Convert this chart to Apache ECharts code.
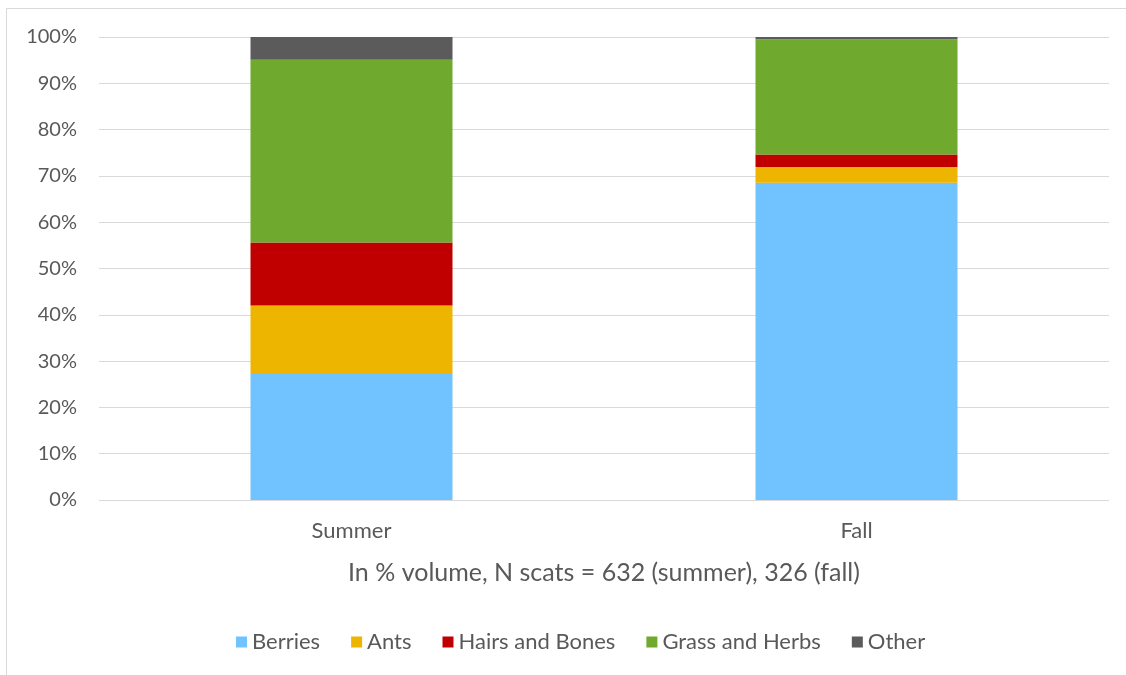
<!DOCTYPE html>
<html>
<head>
<meta charset="utf-8">
<script src="https://cdn.jsdelivr.net/npm/echarts@6/dist/echarts.min.js"></script>
<style>
html,body{margin:0;padding:0;background:#fff;}
#chart{width:1126px;height:675px;}
</style>
</head>
<body>
<div id="chart"></div>
<script>
const categories = ['Summer', 'Fall'];
const berries = [27.2, 68.5];
const ants = [14.8, 3.4];
const hairsBones = [13.6, 2.7];
const grassHerbs = [39.5, 24.9];
const other = [4.9, 0.5];
const seriesNames = ['Berries', 'Ants', 'Hairs and Bones', 'Grass and Herbs', 'Other'];
const seriesColors = ['#70C3FF', '#EEB500', '#C00000', '#6FAA2F', '#5B5B5B'];
const xAxisTitle = 'In % volume, N scats = 632 (summer), 326 (fall)';

const dataSets = [berries, ants, hairsBones, grassHerbs, other];
const font = 'Lato, "Open Sans", sans-serif';

const chart = echarts.init(document.getElementById('chart'));
chart.setOption({
  backgroundColor: '#fff',
  animation: false,
  graphic: [{
    type: 'rect',
    shape: {x: 6.5, y: 8.5, width: 1140, height: 700},
    style: {fill: 'none', stroke: '#d9d9d9', lineWidth: 1},
    silent: true,
    z: -1
  }],
  grid: {left: 99, right: 17, top: 37, bottom: 175},
  legend: {
    data: seriesNames,
    bottom: 17,
    left: 231,
    itemWidth: 11,
    itemHeight: 11,
    itemGap: 31,
    icon: 'rect',
    textStyle: {color: '#595959', fontSize: 22, fontFamily: font}
  },
  xAxis: {
    type: 'category',
    data: categories,
    axisLine: {show: false},
    axisTick: {show: false},
    axisLabel: {color: '#595959', fontSize: 22, fontFamily: font, margin: 20},
    name: xAxisTitle,
    nameLocation: 'middle',
    nameGap: 60,
    nameTextStyle: {color: '#595959', fontSize: 25, fontFamily: font}
  },
  yAxis: {
    type: 'value',
    min: 0,
    max: 100,
    interval: 10,
    axisLine: {show: false},
    axisTick: {show: false},
    axisLabel: {color: '#595959', fontSize: 20, fontFamily: font, margin: 22, formatter: '{value}%'},
    splitLine: {lineStyle: {color: '#d9d9d9', width: 1}}
  },
  series: seriesNames.map((n, i) => ({
    name: n,
    type: 'bar',
    stack: 'total',
    barWidth: '40%',
    data: dataSets[i],
    itemStyle: {color: seriesColors[i]}
  }))
});
</script>
</body>
</html>
